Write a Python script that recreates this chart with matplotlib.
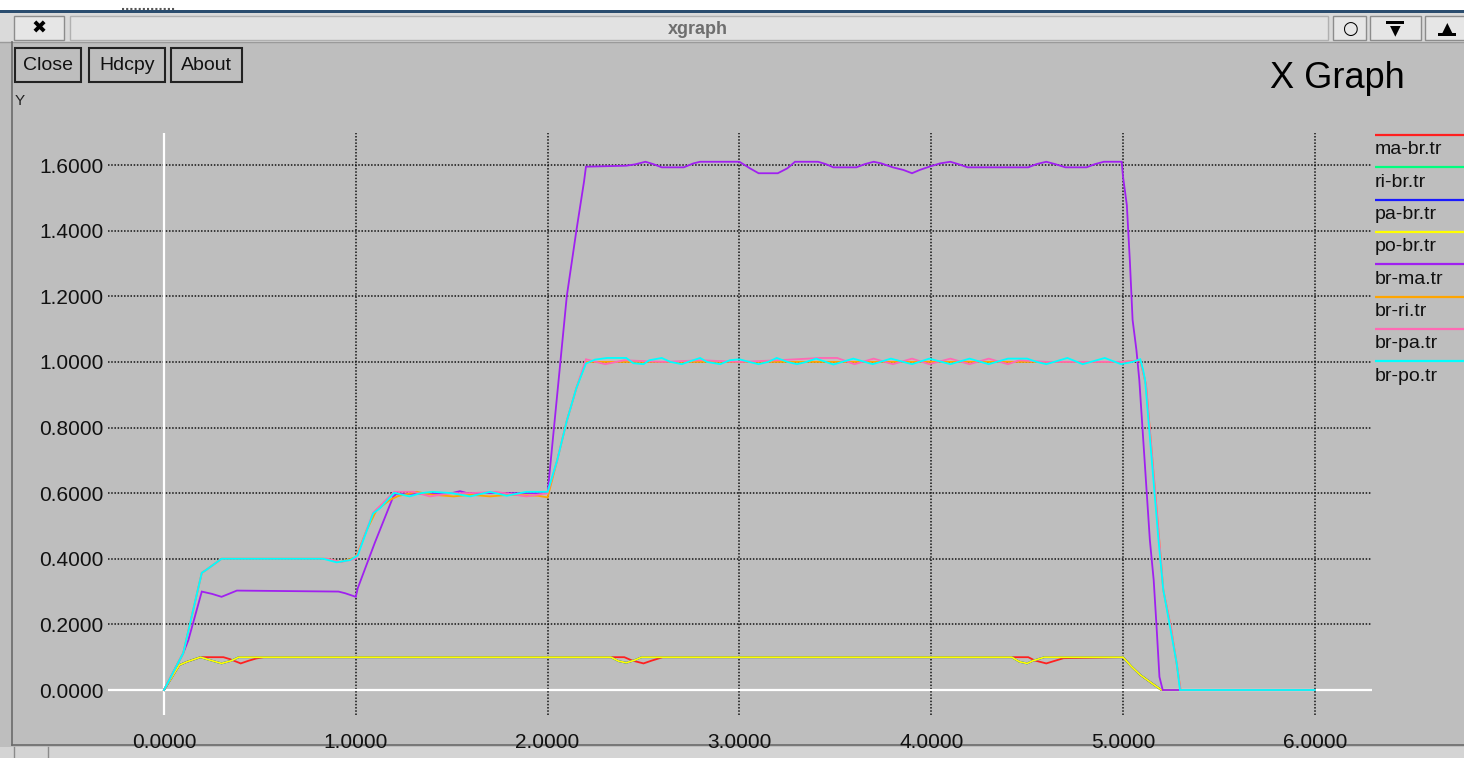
import matplotlib
matplotlib.use('Agg')
import matplotlib.pyplot as plt
from matplotlib.patches import Rectangle

plt.rcParams['font.family'] = ['Liberation Sans', 'DejaVu Sans']

# --- data ---
x_ticks = [0, 1, 2, 3, 4, 5, 6]
y_ticks = [0.0, 0.2, 0.4, 0.6, 0.8, 1.0, 1.2, 1.4, 1.6]

# ma-br.tr (red)
ma_br_x = [0, 0.08, 0.12, 0.19, 0.31, 0.344, 0.40, 0.44, 0.48, 0.52,
           2.40, 2.44, 2.50, 2.54, 2.60, 4.506, 4.54, 4.60, 4.645, 4.69,
           5.0, 5.045, 5.09, 5.14, 5.2, 6.0]
ma_br_y = [0, 0.076, 0.086, 0.1, 0.1, 0.094, 0.081, 0.089, 0.096, 0.1,
           0.1, 0.09, 0.081, 0.089, 0.1, 0.1, 0.09, 0.081, 0.089, 0.097,
           0.1, 0.071, 0.046, 0.025, 0, 0]

# ri-br.tr (green) and pa-br.tr (blue) run exactly under po-br.tr
ri_br_x = [0, 0.08, 0.12, 0.19, 0.24, 0.30, 0.35, 0.39,
           2.33, 2.37, 2.41, 2.45, 2.49, 4.42, 4.46, 4.50, 4.53, 4.59,
           5.0, 5.045, 5.09, 5.14, 5.2, 6.0]
ri_br_y = [0, 0.076, 0.086, 0.1, 0.091, 0.081, 0.089, 0.1,
           0.1, 0.088, 0.083, 0.09, 0.1, 0.1, 0.086, 0.081, 0.089, 0.1,
           0.1, 0.071, 0.046, 0.025, 0, 0]
pa_br_x = [0, 0.08, 0.12, 0.19, 0.24, 0.30, 0.35, 0.39,
           2.33, 2.37, 2.41, 2.45, 2.49, 4.42, 4.46, 4.50, 4.53, 4.59,
           5.0, 5.045, 5.09, 5.14, 5.2, 6.0]
pa_br_y = [0, 0.076, 0.086, 0.1, 0.091, 0.081, 0.089, 0.1,
           0.1, 0.088, 0.083, 0.09, 0.1, 0.1, 0.086, 0.081, 0.089, 0.1,
           0.1, 0.071, 0.046, 0.025, 0, 0]

# po-br.tr (yellow)
po_br_x = [0, 0.08, 0.12, 0.19, 0.24, 0.30, 0.35, 0.39,
           2.33, 2.37, 2.41, 2.45, 2.49, 4.42, 4.46, 4.50, 4.53, 4.59,
           5.0, 5.045, 5.09, 5.14, 5.2, 6.0]
po_br_y = [0, 0.076, 0.086, 0.1, 0.091, 0.081, 0.089, 0.1,
           0.1, 0.088, 0.083, 0.09, 0.1, 0.1, 0.086, 0.081, 0.089, 0.1,
           0.1, 0.071, 0.046, 0.025, 0, 0]

# br-ma.tr (purple)
br_ma_x = [0, 0.10, 0.127, 0.197, 0.25, 0.30, 0.38, 0.91, 0.944, 1.0,
           1.01, 1.1, 1.195, 1.21, 1.50, 1.543, 1.58, 2.0, 2.05, 2.1,
           2.15, 2.19, 2.2, 2.41, 2.456, 2.51, 2.55, 2.595, 2.71, 2.76,
           2.795, 3.0, 3.055, 3.10, 3.20, 3.25, 3.29, 3.41, 3.45, 3.49,
           3.61, 3.655, 3.70, 3.74, 3.80, 3.855, 3.90, 3.94, 3.99, 4.046,
           4.10, 4.14, 4.19, 4.506, 4.55, 4.60, 4.645, 4.70, 4.81, 4.855,
           4.90, 4.993, 5.0, 5.02, 5.036, 5.05, 5.07, 5.085, 5.14, 5.16,
           5.175, 5.19, 5.207, 6.0]
br_ma_y = [0, 0.112, 0.152, 0.30, 0.293, 0.284, 0.303, 0.30, 0.295, 0.284,
           0.31, 0.45, 0.589, 0.597, 0.6, 0.606, 0.6, 0.6, 0.9, 1.2,
           1.4, 1.55, 1.595, 1.598, 1.602, 1.61, 1.603, 1.593, 1.593, 1.605,
           1.61, 1.61, 1.59, 1.575, 1.575, 1.59, 1.61, 1.61, 1.603, 1.593,
           1.593, 1.603, 1.61, 1.605, 1.593, 1.585, 1.575, 1.585, 1.595, 1.605,
           1.61, 1.603, 1.593, 1.593, 1.603, 1.61, 1.603, 1.593, 1.593, 1.603,
           1.61, 1.61, 1.565, 1.478, 1.305, 1.128, 1.036, 0.945, 0.457, 0.335,
           0.193, 0.04, 0, 0]

# br-ri.tr (orange)
br_ri_x = [0, 0.10, 0.197, 0.22, 0.30, 0.85, 0.92, 1.0, 1.057, 1.109,
           1.18, 1.22, 1.317, 1.40, 1.51, 1.60, 1.70, 1.80, 1.95, 2.0,
           2.05, 2.1, 2.15, 2.2, 5.0, 5.09, 5.12, 5.19, 5.21, 5.25,
           5.28, 5.3, 6.0]
br_ri_y = [0, 0.112, 0.357, 0.366, 0.40, 0.40, 0.39, 0.405, 0.488, 0.549,
           0.58, 0.591, 0.604, 0.595, 0.59, 0.595, 0.59, 0.595, 0.592, 0.587,
           0.70, 0.82, 0.92, 1.0, 1.0, 1.005, 0.93, 0.45, 0.305, 0.19,
           0.08, 0, 0]

# br-pa.tr (pink)
br_pa_x = [0, 0.10, 0.197, 0.22, 0.30, 0.85, 0.92, 1.0, 1.09, 1.2,
           1.30, 1.387, 1.50, 1.60, 1.73, 1.89, 2.0, 2.05, 2.1, 2.15,
           2.2, 2.30, 2.40, 2.60, 2.80, 3.0, 3.2, 3.42, 3.51, 3.60,
           3.70, 3.80, 3.90, 3.99, 4.10, 4.20, 4.30, 4.40, 4.46, 4.6,
           5.0, 5.09, 5.12, 5.19, 5.21, 5.25, 5.28, 5.3, 6.0]
br_pa_y = [0, 0.112, 0.357, 0.366, 0.40, 0.40, 0.39, 0.40, 0.54, 0.604,
           0.604, 0.59, 0.6, 0.6, 0.604, 0.59, 0.6, 0.70, 0.82, 0.92,
           1.008, 0.993, 1.005, 1.0, 1.005, 1.0, 1.005, 1.012, 1.012, 0.993,
           1.01, 0.993, 1.01, 0.993, 1.01, 0.993, 1.01, 0.993, 1.005, 1.0,
           1.0, 1.005, 0.93, 0.45, 0.305, 0.19, 0.08, 0, 0]

# br-po.tr (cyan)
br_po_x = [0, 0.10, 0.197, 0.22, 0.30, 0.83, 0.90, 0.97, 1.01, 1.09,
           1.126, 1.2, 1.28, 1.34, 1.40, 1.50, 1.595, 1.70, 1.787, 1.89,
           1.96, 2.0, 2.05, 2.1, 2.15, 2.2, 2.247, 2.31, 2.41, 2.447,
           2.50, 2.53, 2.595, 2.64, 2.70, 2.733, 2.795, 2.83, 2.90, 2.95,
           3.0, 3.05, 3.10, 3.15, 3.195, 3.25, 3.30, 3.35, 3.40, 3.49,
           3.594, 3.695, 3.79, 3.90, 3.99, 4.10, 4.20, 4.30, 4.40, 4.50,
           4.55, 4.60, 4.71, 4.79, 4.905, 4.99, 5.05, 5.09, 5.105, 5.115,
           5.185, 5.21, 5.245, 5.28, 5.297, 6.0]
br_po_y = [0, 0.112, 0.357, 0.366, 0.40, 0.40, 0.389, 0.396, 0.41, 0.538,
           0.554, 0.601, 0.59, 0.60, 0.604, 0.60, 0.59, 0.604, 0.592, 0.604,
           0.604, 0.604, 0.70, 0.82, 0.92, 0.995, 1.007, 1.012, 1.012, 0.996,
           0.993, 1.005, 1.012, 1.0, 0.993, 1.0, 1.012, 1.0, 0.993, 1.005,
           1.008, 1.0, 0.993, 1.0, 1.012, 1.0, 0.993, 1.0, 1.01, 0.992,
           1.01, 0.993, 1.01, 0.993, 1.01, 0.993, 1.01, 0.993, 1.01, 1.01,
           1.0, 0.993, 1.012, 0.993, 1.012, 0.993, 1.0, 1.008, 0.975, 0.945,
           0.457, 0.305, 0.193, 0.081, 0, 0]

series_names = ['ma-br.tr', 'ri-br.tr', 'pa-br.tr', 'po-br.tr',
                'br-ma.tr', 'br-ri.tr', 'br-pa.tr', 'br-po.tr']
series_x = [ma_br_x, ri_br_x, pa_br_x, po_br_x, br_ma_x, br_ri_x, br_pa_x, br_po_x]
series_y = [ma_br_y, ri_br_y, pa_br_y, po_br_y, br_ma_y, br_ri_y, br_pa_y, br_po_y]
series_colors = ['#ff2020', '#00ff7f', '#1a1aff', '#ffff00',
                 '#a020f0', '#ffa500', '#ff69b4', '#00ffff']

BG = '#bebebe'
W, H = 1464, 758

fig = plt.figure(figsize=(W / 100, H / 100), dpi=100, facecolor=BG)

# --- window chrome, drawn in pixel coordinates ---
chrome = fig.add_axes([0, 0, 1, 1], zorder=0)
chrome.set_xlim(0, W)
chrome.set_ylim(H, 0)
chrome.set_axis_off()

chrome.add_patch(Rectangle((0, 0), W, 11, facecolor='white', edgecolor='none'))
chrome.add_patch(Rectangle((0, 10), W, 3, facecolor='#2b4d6f', edgecolor='none'))
chrome.plot([122, 175], [9, 9], color='#555555', lw=1.5, ls=(0, (1, 1)))
chrome.add_patch(Rectangle((0, 13), W, 29, facecolor='#dadada', edgecolor='none'))
chrome.plot([0, W], [42, 42], color='#9a9a9a', lw=1)
chrome.add_patch(Rectangle((14, 16), 50, 24, facecolor='#e6e6e6', edgecolor='#8c8c8c', lw=1))
chrome.text(39, 28.5, '✖', ha='center', va='center', fontsize=13,
            family=['DejaVu Sans'], color='black')
chrome.add_patch(Rectangle((70, 16), 1258, 24, facecolor='#e2e2e2', edgecolor='#b0b0b0', lw=1))
chrome.text(698, 29, 'xgraph', ha='center', va='center', fontsize=13,
            fontweight='bold', color='#6e6e6e')
chrome.add_patch(Rectangle((1333, 16), 33, 24, facecolor='#e6e6e6', edgecolor='#8c8c8c', lw=1))
chrome.text(1349.5, 28.5, '○', ha='center', va='center', fontsize=13,
            family=['DejaVu Sans'], color='black')
chrome.add_patch(Rectangle((1370, 16), 51, 24, facecolor='#e6e6e6', edgecolor='#8c8c8c', lw=1))
chrome.text(1395, 30, '▼', ha='center', va='center', fontsize=10,
            family=['DejaVu Sans'], color='black')
chrome.add_patch(Rectangle((1386, 21), 18, 3, facecolor='black', edgecolor='none'))
chrome.add_patch(Rectangle((1425, 16), 45, 24, facecolor='#e6e6e6', edgecolor='#8c8c8c', lw=1))
chrome.text(1447, 27, '▲', ha='center', va='center', fontsize=10,
            family=['DejaVu Sans'], color='black')
chrome.add_patch(Rectangle((1438, 33), 18, 3, facecolor='black', edgecolor='none'))

# left and bottom frame of the window
chrome.plot([12, 12], [42, 745], color='#6a6a6a', lw=1.2)
chrome.plot([12, W], [745, 745], color='#6a6a6a', lw=1.2)
chrome.add_patch(Rectangle((0, 747), W, 11, facecolor='#d4d4d4', edgecolor='none'))
chrome.plot([14, 14], [747, 758], color='#8a8a8a', lw=1)
chrome.plot([48, 48], [747, 758], color='#8a8a8a', lw=1)

# buttons
for label, x0, x1 in [('Close', 15, 81), ('Hdcpy', 89, 165), ('About', 171, 242)]:
    chrome.add_patch(Rectangle((x0, 48), x1 - x0, 34, facecolor=BG,
                               edgecolor='#222222', lw=1.5))
    chrome.text((x0 + x1) / 2, 65, label, ha='center', va='center',
                fontsize=14, color='#111111')

chrome.text(1270, 79, 'X Graph', ha='left', va='center', fontsize=26, color='black')
chrome.text(15, 101, 'Y', ha='left', va='center', fontsize=11, color='#222222')

# legend at the right edge
for i, (name, col) in enumerate(zip(series_names, series_colors)):
    yl = 135 + i * 32.3
    chrome.plot([1375, W], [yl, yl], color=col, lw=1.6, solid_capstyle='butt')
    chrome.text(1375, yl + 15, name, ha='left', va='center', fontsize=14,
                color='#111111')

# --- plot area ---
ax = fig.add_axes([108 / W, 1 - 715 / H, (1372 - 108) / W, (715 - 133) / H],
                  zorder=1, facecolor=BG)
ax.set_xlim((108 - 164) / 191.8, (1372 - 164) / 191.8)
ax.set_ylim((690 - 715) / 328.1, (690 - 133) / 328.1)
for sp in ax.spines.values():
    sp.set_visible(False)

for yv in y_ticks[1:]:
    ax.axhline(yv, color='#141414', lw=1.1, ls=(0, (1, 1.1)), zorder=1)
for xv in x_ticks[1:]:
    ax.axvline(xv, color='#141414', lw=1.1, ls=(0, (1, 1.1)), zorder=1)
ax.axhline(0, color='white', lw=1.6, zorder=1.5)
ax.axvline(0, color='white', lw=1.6, zorder=1.5)

for xs, ys, col in zip(series_x, series_y, series_colors):
    ax.plot(xs, ys, color=col, lw=1.3, zorder=2, solid_joinstyle='miter')

ax.set_xticks(x_ticks)
ax.set_xticklabels([f'{v:.4f}' for v in x_ticks])
ax.set_yticks(y_ticks)
ax.set_yticklabels([f'{v:.4f}' for v in y_ticks])
ax.tick_params(length=0, labelsize=15, colors='#111111')
ax.tick_params(axis='x', pad=13)
ax.tick_params(axis='y', pad=3)

fig.savefig('out.png', dpi=100, facecolor=BG)
